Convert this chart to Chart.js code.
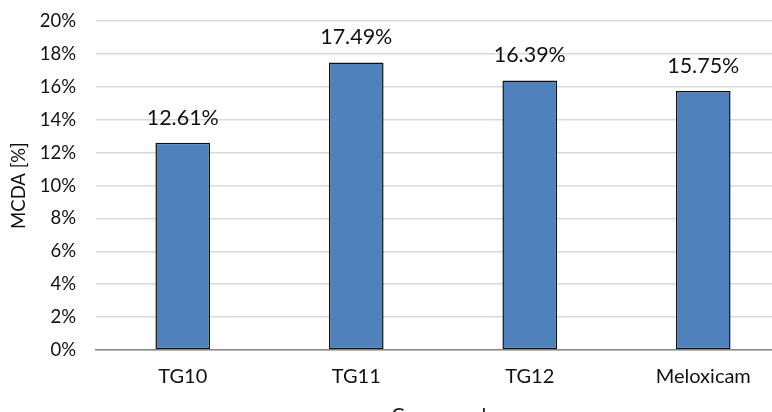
<!DOCTYPE html>
<html>
<head>
<meta charset="utf-8">
<script src="https://cdn.jsdelivr.net/npm/chart.js@4/dist/chart.umd.min.js"></script>
<style>
  html, body { margin: 0; padding: 0; background: #fff; overflow: hidden; }
  #wrap { position: relative; width: 790px; height: 437px; margin-top: -10px; }
</style>
</head>
<body>
<div id="wrap"><canvas id="mcdaChart"></canvas></div>
<script>
// Datos del gráfico
const compounds = ["TG10", "TG11", "TG12", "Meloxicam"];
const mcdaValues = [12.61, 17.49, 16.39, 15.75];
const yTicks = [0, 2, 4, 6, 8, 10, 12, 14, 16, 18, 20];

const fontFamily = "Lato, 'Open Sans', sans-serif";

// Etiquetas de valor sobre cada barra
const valueLabels = {
  id: "valueLabels",
  afterDatasetsDraw(chart) {
    const ctx = chart.ctx;
    const meta = chart.getDatasetMeta(0);
    ctx.save();
    ctx.font = "21.5px " + fontFamily;
    ctx.fillStyle = "#111";
    ctx.textAlign = "center";
    ctx.textBaseline = "middle";
    meta.data.forEach((bar, i) => {
      ctx.fillText(mcdaValues[i].toFixed(2) + "%", bar.x, bar.y - 25);
    });
    ctx.restore();
  },
};

const ctx = document.getElementById("mcdaChart").getContext("2d");
new Chart(ctx, {
  type: "bar",
  data: {
    labels: compounds,
    datasets: [
      {
        data: mcdaValues,
        backgroundColor: "#4F81BD",
        borderColor: "#111",
        borderWidth: 1.5,
        borderSkipped: false,
        barPercentage: 0.315,
        categoryPercentage: 1,
      },
    ],
  },
  options: {
    responsive: true,
    maintainAspectRatio: false,
    animation: false,
    layout: { padding: { top: 0, left: 8, right: 0, bottom: 0 } },
    plugins: {
      legend: { display: false },
      tooltip: { enabled: false },
    },
    scales: {
      x: {
        // alto fijo: el título queda medio cortado abajo
        afterFit: (axis) => {
          axis.height = 77;
        },
        grid: { display: false, drawTicks: false },
        border: { color: "#888", width: 1.5 },
        ticks: {
          color: "#111",
          font: { family: fontFamily, size: 20 },
          padding: 15,
        },
        title: {
          display: true,
          text: "Compounds",
          color: "#111",
          font: { family: fontFamily, size: 19.5 },
          padding: { top: 0, bottom: 0 },
        },
      },
      y: {
        min: 0,
        max: 20,
        afterBuildTicks: (axis) => {
          axis.ticks = yTicks.map((v) => ({ value: v }));
        },
        // ancho fijo del eje para que la rejilla empiece en el mismo sitio
        afterFit: (axis) => {
          axis.width = 88;
        },
        grid: { color: "#d9d9d9", lineWidth: 1.5, drawTicks: false },
        border: { display: false },
        ticks: {
          color: "#111",
          font: { family: fontFamily, size: 18.5 },
          padding: 20,
          callback: (v) => v + "%",
        },
        title: {
          display: true,
          text: "MCDA [%]",
          color: "#111",
          font: { family: fontFamily, size: 18.5 },
          padding: { top: 0, bottom: 2 },
        },
      },
    },
  },
  plugins: [valueLabels],
});
</script>
</body>
</html>
